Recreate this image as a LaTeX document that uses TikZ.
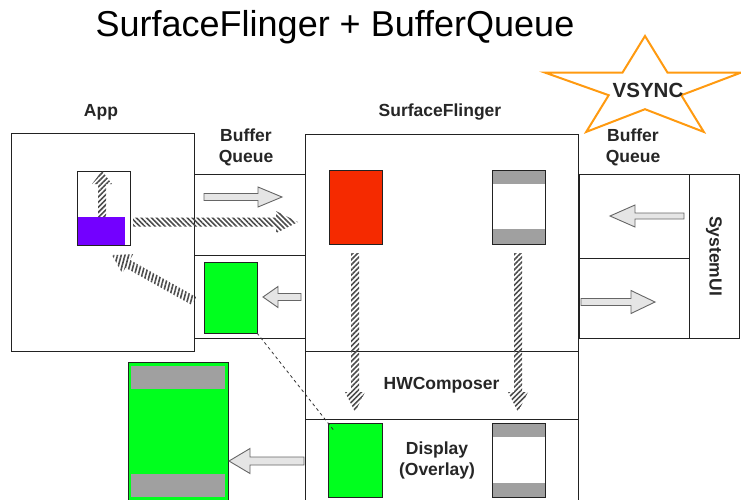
\documentclass[tikz,border=0pt]{standalone}
\usepackage{fontspec}
\setmainfont{Liberation Sans}
\usetikzlibrary{calc,patterns.meta}
\definecolor{purp}{HTML}{7300FF}
\definecolor{grn}{HTML}{00FF1E}
\definecolor{redc}{HTML}{F52A00}
\definecolor{bandg}{HTML}{A0A0A0}
\definecolor{orng}{HTML}{FF9A10}
\definecolor{linec}{HTML}{222222}
\tikzset{
  box/.style={draw=linec, line width=1pt, inner sep=0pt, outer sep=0pt, anchor=north west},
  lbl/.style={font=\bfseries\fontsize{17.5}{21}\selectfont, align=center, inner sep=0pt, text=black!85},
  hatch/.style={pattern={Lines[angle=#1,distance=3.6pt,line width=1.6pt]}, pattern color=black!70},
  hollow/.style={fill=black!10, draw=black!60, line width=0.9pt, line join=miter},
  bands/.style n args={2}{path picture={
    \fill[bandg] (path picture bounding box.north west) rectangle ([yshift=-#1pt]path picture bounding box.north east);
    \fill[bandg] (path picture bounding box.south west) rectangle ([yshift=#2pt]path picture bounding box.south east);}},
}
% #1 style, #2 from, #3 to, #4 shaft half width, #5 head half width, #6 head length
\newcommand\fatarrow[6]{%
  \coordinate (fa-h) at ($(#3)!#6!(#2)$);
  \path[#1] ($(#2)!#4!-90:(#3)$) -- ($(fa-h)!#4!-90:(#3)$) -- ($(fa-h)!#5!-90:(#3)$)
    -- (#3) -- ($(fa-h)!#5!90:(#3)$) -- ($(fa-h)!#4!90:(#3)$) -- ($(#2)!#4!90:(#3)$) -- cycle;}
\begin{document}
\begin{tikzpicture}[x=1pt,y=-1pt]
\useasboundingbox[fill=white] (0,0) rectangle (741,499);
\begin{scope}
\clip (0,0) rectangle (741,499);
% title
\node[font=\fontsize{36}{40}\selectfont, inner sep=0pt] (title) at (335,27) {SurfaceFlinger + BufferQueue};
% labels
\node[lbl] (applbl) at (101,112) {App};
\node[lbl] (bqlbl1) at (246,147) {Buffer\\Queue};
\node[lbl] (sflbl) at (440,112) {SurfaceFlinger};
\node[lbl] (bqlbl2) at (633,147) {Buffer\\Queue};
% boxes
\node[box, minimum width=183, minimum height=218] (app) at (11,133) {};
\node[box, minimum width=111, minimum height=81] (bq1a) at (194,174) {};
\node[box, minimum width=111, minimum height=83] (bq1b) at (194,255) {};
\node[box, minimum width=273, minimum height=217] (sf) at (305,134) {};
\node[box, minimum width=273, minimum height=68] (hwc) at (305,351) {};
\node[box, minimum width=273, minimum height=100] (disp) at (305,419) {};
\node[box, minimum width=110, minimum height=84] (bq2a) at (579,174) {};
\node[box, minimum width=110, minimum height=80] (bq2b) at (579,258) {};
\node[box, minimum width=50, minimum height=164] (sysui) at (689,174) {};
\node[lbl, rotate=-90] (sysuilbl) at (sysui.center) {SystemUI};
% buffers
\node[box, minimum width=53, minimum height=74] (small) at (77,171) {};
\fill[purp] (77.5,217) rectangle (125,244.5);
\node[box, fill=grn, minimum width=53, minimum height=71] (gb) at (204,262) {};
\node[box, fill=redc, minimum width=53, minimum height=74] (red) at (329,170) {};
\node[box, fill=white, bands={14}{15}, minimum width=53, minimum height=74] (sfbuf) at (492,170) {};
\node[box, fill=grn, minimum width=54, minimum height=74] (dg) at (328,423) {};
\node[box, fill=white, bands={14}{14}, minimum width=53, minimum height=74] (dbuf) at (492,423) {};
\node[box, fill=grn, minimum width=100, minimum height=150] (big) at (128,362) {};
\fill[bandg] (131,366) rectangle (225,389);
\fill[bandg] (131,474) rectangle (225,497);
% text
\node[lbl] (hwclbl) at (hwc.center) {HWComposer};
\node[lbl] (displbl) at (437,460) {Display\\(Overlay)};
% star
\draw[orng, line width=2pt, line join=miter, fill=white]
  (645,36) -- (667.5,72.6) -- (741,72.6) -- (681.3,95.2) -- (703.8,131.9) -- (645,109.2)
  -- (586.2,131.9) -- (608.7,95.2) -- (545,72.6) -- (622.5,72.6) -- cycle;
\node[font=\bfseries\fontsize{20.5}{24}\selectfont, inner sep=0pt, text=black!85] (vsync) at (648,90) {VSYNC};
% dashed connector
\coordinate (dashend) at ($(gb.south east)!1.08!(dg.north west)$);
\draw[dashed, black!80, line width=0.8pt] (gb.south east) -- (dashend);
% hatched arrows
\coordinate (up1) at (102,217); \coordinate (up2) at (102,171);
\fatarrow{hatch=45}{up1}{up2}{4pt}{10pt}{13pt}
\coordinate (h1) at (133,222); \coordinate (h2) at (298,222);
\fatarrow{hatch=-45}{h1}{h2}{4.5pt}{11pt}{22pt}
\coordinate (d1) at (194,301); \coordinate (d2) at (112,255);
\fatarrow{hatch=75}{d1}{d2}{4.5pt}{11pt}{18pt}
\coordinate (v1) at (355,253); \coordinate (v2) at (355,412);
\fatarrow{hatch=45}{v1}{v2}{4pt}{10pt}{20pt}
\coordinate (w1) at (518,253); \coordinate (w2) at (518,412);
\fatarrow{hatch=45}{w1}{w2}{4pt}{10pt}{20pt}
% hollow arrows
\coordinate (a1s) at (204,197); \coordinate (a1e) at (282,197);
\fatarrow{hollow}{a1s}{a1e}{3.5pt}{10pt}{24pt}
\coordinate (a2s) at (301,297); \coordinate (a2e) at (263,297);
\fatarrow{hollow}{a2s}{a2e}{3.5pt}{10.5pt}{15pt}
\coordinate (a3s) at (684,216); \coordinate (a3e) at (610,216);
\fatarrow{hollow}{a3s}{a3e}{3pt}{11pt}{25pt}
\coordinate (a4s) at (581,302); \coordinate (a4e) at (655,302);
\fatarrow{hollow}{a4s}{a4e}{3.5pt}{11.5pt}{24pt}
\coordinate (a5s) at (304,461); \coordinate (a5e) at (229,461);
\fatarrow{hollow}{a5s}{a5e}{4pt}{12.5pt}{21pt}
\end{scope}
\end{tikzpicture}
\end{document}
